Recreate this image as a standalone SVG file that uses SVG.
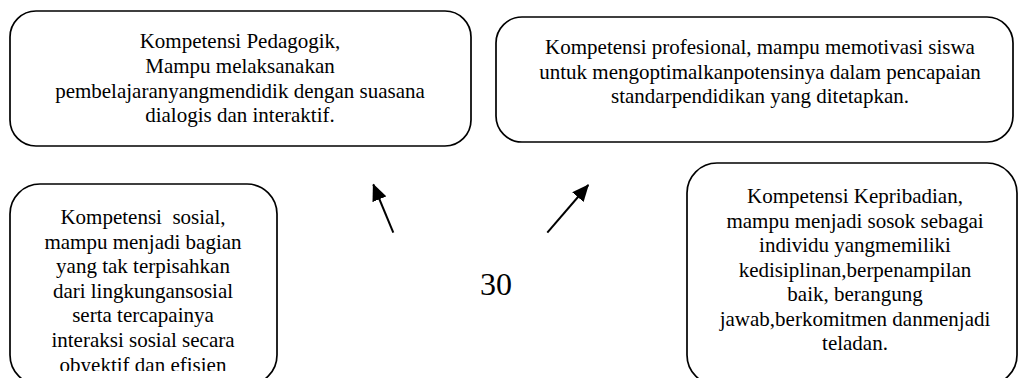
<svg xmlns="http://www.w3.org/2000/svg" width="1019" height="378" viewBox="0 0 1019 378">
  <style>
    .box { fill: #ffffff; stroke: #000000; stroke-width: 1.7; }
    .t { font-family: "Liberation Serif", "Times New Roman", serif; font-size: 21px; fill: #000000; text-anchor: middle; white-space: pre; }
    .num { font-family: "Liberation Serif", "Times New Roman", serif; font-size: 32px; fill: #000000; text-anchor: middle; }
    .conn { stroke: #000000; stroke-width: 2; fill: none; }
  </style>
  <defs>
    <marker id="arrow" markerUnits="userSpaceOnUse" markerWidth="17" markerHeight="15" viewBox="0 0 17 15" refX="16" refY="7.5" orient="auto">
      <path d="M0,0 L17,7.5 L0,15 z" fill="#000000"/>
    </marker>
    <clipPath id="clip3">
      <rect x="0" y="150" width="300" height="221"/>
    </clipPath>
  </defs>
  <rect width="1019" height="378" fill="#ffffff"/>

  <g id="node-pedagogik">
    <rect class="box" x="10" y="11" width="461" height="135" rx="26" ry="26"/>
    <text class="t" x="240" y="48">Kompetensi Pedagogik,</text>
    <text class="t" x="240" y="73">Mampu melaksanakan</text>
    <text class="t" x="240" y="97.5">pembelajaranyangmendidik dengan suasana</text>
    <text class="t" x="240" y="122">dialogis dan interaktif.</text>
  </g>

  <g id="node-profesional">
    <rect class="box" x="496" y="17" width="517" height="125" rx="26" ry="26"/>
    <text class="t" x="760" y="53.5">Kompetensi profesional, mampu memotivasi siswa</text>
    <text class="t" x="760" y="78.5">untuk mengoptimalkanpotensinya dalam pencapaian</text>
    <text class="t" x="760" y="103">standarpendidikan yang ditetapkan.</text>
  </g>

  <g id="node-sosial">
    <rect class="box" x="10" y="184" width="267" height="201" rx="30" ry="30"/>
    <g clip-path="url(#clip3)">
      <text class="t" x="143" y="224">Kompetensi  sosial,</text>
      <text class="t" x="143" y="248.5">mampu menjadi bagian</text>
      <text class="t" x="143" y="273">yang tak terpisahkan</text>
      <text class="t" x="143" y="297.5">dari lingkungansosial</text>
      <text class="t" x="143" y="322">serta tercapainya</text>
      <text class="t" x="143" y="346.5">interaksi sosial secara</text>
      <text class="t" x="143" y="372">obyektif dan efisien</text>
    </g>
  </g>

  <g id="node-kepribadian">
    <rect class="box" x="687" y="163" width="330" height="222" rx="30" ry="30"/>
    <text class="t" x="855" y="203">Kompetensi Kepribadian,</text>
    <text class="t" x="855" y="227.5">mampu menjadi sosok sebagai</text>
    <text class="t" x="855" y="252">individu yangmemiliki</text>
    <text class="t" x="855" y="276.5">kedisiplinan,berpenampilan</text>
    <text class="t" x="855" y="301">baik, berangung</text>
    <text class="t" x="855" y="325.5">jawab,berkomitmen danmenjadi</text>
    <text class="t" x="855" y="350">teladan.</text>
  </g>

  <g id="node-center">
    <text class="num" x="496" y="295">30</text>
  </g>

  <g id="connectors">
    <line class="conn" x1="393.3" y1="232.7" x2="373.3" y2="184.5" marker-end="url(#arrow)"/>
    <line class="conn" x1="547.3" y1="232.7" x2="588.3" y2="185" marker-end="url(#arrow)"/>
  </g>
</svg>
